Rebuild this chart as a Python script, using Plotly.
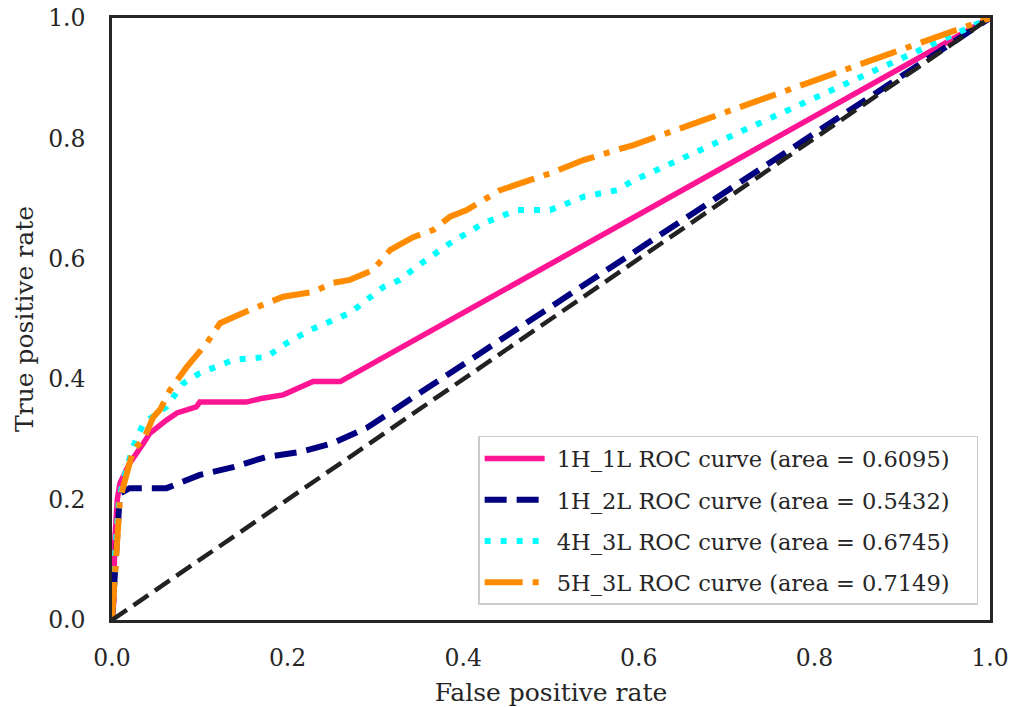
import plotly.graph_objects as go

# ROC data
fpr_1h1l = [0, 0.002, 0.003, 0.006, 0.009, 0.02, 0.036, 0.043, 0.062, 0.074, 0.096, 0.1, 0.153, 0.17, 0.195, 0.229, 0.26, 1.0]
tpr_1h1l = [0, 0.03, 0.128, 0.2, 0.227, 0.26, 0.294, 0.31, 0.332, 0.344, 0.354, 0.362, 0.362, 0.368, 0.374, 0.396, 0.396, 1.0]

fpr_1h2l = [0, 0.003, 0.006, 0.009, 0.02, 0.062, 0.1, 0.138, 0.176, 0.214, 0.252, 0.29, 1.0]
tpr_1h2l = [0, 0.08, 0.17, 0.21, 0.219, 0.219, 0.241, 0.254, 0.271, 0.279, 0.294, 0.319, 1.0]

fpr_4h3l = [0, 0.003, 0.008, 0.013, 0.024, 0.036, 0.062, 0.081, 0.1, 0.138, 0.176, 0.199, 0.226, 0.271, 0.309,
            0.328, 0.347, 0.385, 0.423, 0.461, 0.499, 0.537, 0.575, 0.594, 1.0]
tpr_4h3l = [0, 0.1, 0.2, 0.233, 0.288, 0.327, 0.354, 0.393, 0.41, 0.432, 0.437, 0.46, 0.482, 0.51, 0.553,
            0.565, 0.587, 0.626, 0.659, 0.681, 0.681, 0.703, 0.714, 0.73, 1.0]

fpr_5h3l = [0, 0.003, 0.006, 0.009, 0.024, 0.036, 0.047, 0.055, 0.066, 0.085, 0.108, 0.123, 0.157, 0.195, 0.229,
            0.252, 0.271, 0.297, 0.317, 0.343, 0.366, 0.385, 0.404, 0.442, 0.499, 0.537, 0.575, 0.594, 1.0]
tpr_5h3l = [0, 0.08, 0.15, 0.2, 0.282, 0.3, 0.337, 0.35, 0.382, 0.42, 0.46, 0.493, 0.515, 0.537, 0.545,
            0.56, 0.565, 0.581, 0.615, 0.636, 0.648, 0.67, 0.681, 0.714, 0.742, 0.764, 0.781, 0.789, 1.0]

diag = [0, 1]

names = ["1H_1L ROC curve (area = 0.6095)",
         "1H_2L ROC curve (area = 0.5432)",
         "4H_3L ROC curve (area = 0.6745)",
         "5H_3L ROC curve (area = 0.7149)"]

tick_vals = [0, 0.2, 0.4, 0.6, 0.8, 1.0]
tick_text = ["0.0", "0.2", "0.4", "0.6", "0.8", "1.0"]

FONT = "DejaVu Serif"
LPAD = "\u00a0"       # gap between legend sample and text
RPAD = "\u00a0" * 3   # right padding inside the legend box

fig = go.Figure()
fig.add_trace(go.Scatter(x=fpr_1h1l, y=tpr_1h1l, mode="lines", name=LPAD + names[0] + RPAD, legendgroup="a",
                         line=dict(color="#FF1493", width=5.5)))
fig.add_trace(go.Scatter(x=fpr_1h2l, y=tpr_1h2l, mode="lines", name=LPAD + names[1] + RPAD, legendgroup="b",
                         line=dict(color="#000080", width=6, dash="22px,10px")))
fig.add_trace(go.Scatter(x=fpr_4h3l, y=tpr_4h3l, mode="lines", name=LPAD + names[2] + RPAD, legendgroup="c",
                         line=dict(color="#00FFFF", width=6, dash="6px,10px")))
fig.add_trace(go.Scatter(x=fpr_5h3l, y=tpr_5h3l, mode="lines", name=LPAD + names[3] + RPAD, legendgroup="d",
                         line=dict(color="#FF8C00", width=6, dash="38px,10px,6px,10px")))
fig.add_trace(go.Scatter(x=diag, y=diag, mode="lines", showlegend=False,
                         line=dict(color="#222222", width=4.5, dash="18px,8px")))

axis_common = dict(range=[0, 1], tickvals=tick_vals, ticktext=tick_text, showgrid=False, zeroline=False,
                   showline=True, mirror=True, linecolor="#262626", linewidth=2.5,
                   tickfont=dict(family=FONT, size=23.5, color="#262626"),
                   ticks="", automargin=False)

fig.update_layout(
    width=1010, height=707,
    margin=dict(l=112, r=20, t=18, b=87),
    paper_bgcolor="white", plot_bgcolor="white",
    font=dict(family=FONT, color="#262626"),
    xaxis=dict(**axis_common, ticklabelstandoff=15,
               title=dict(text="False positive rate", font=dict(family=FONT, size=25), standoff=13)),
    yaxis=dict(**axis_common, ticklabelstandoff=19,
               title=dict(text="True positive rate", font=dict(family=FONT, size=25), standoff=8)),
    legend=dict(x=0.9865, xanchor="right", y=0.025, yanchor="bottom",
                bordercolor="#cccccc", borderwidth=1.5, bgcolor="white",
                font=dict(family=FONT, size=22.5, color="#262626"),
                itemwidth=60, tracegroupgap=9, traceorder="grouped"),
)

fig.write_html("out.html")
